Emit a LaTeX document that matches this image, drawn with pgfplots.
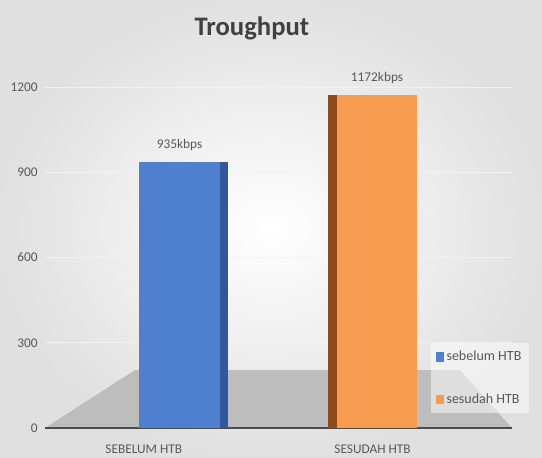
\documentclass[border=0pt]{standalone}
\usepackage{fontspec}
\setmainfont{Carlito}
\usepackage{pgfplots}
\pgfplotsset{compat=1.18}
\definecolor{barblue}{HTML}{4F7FCF}
\definecolor{blueside}{HTML}{34579A}
\definecolor{barorange}{HTML}{F79B50}
\definecolor{orangeside}{HTML}{8E4A1A}
\definecolor{txtgray}{HTML}{595959}
\definecolor{titlegray}{HTML}{404040}
\begin{document}
\begin{tikzpicture}
\useasboundingbox (0,0) rectangle (406.5pt,342.75pt);
\shade[inner color=white, outer color=gray!24] (0,0) rectangle (406.5pt,342.75pt);
\fill[gray!52] (33.75pt,21.75pt) -- (101.25pt,65.25pt) -- (345pt,65.25pt) -- (384pt,21.75pt) -- cycle;
\begin{axis}[
  at={(33.75pt,21.75pt)}, anchor=south west,
  scale only axis, width=350.25pt, height=255.75pt,
  ybar, bar shift=0pt,
  ymin=0, ymax=1200, ytick={0,300,600,900,1200},
  xmin=-0.733, xmax=1.738,
  xtick={-0.21,1}, xticklabels={SEBELUM HTB, SESUDAH HTB},
  axis x line*=bottom, axis y line*=left,
  x axis line style={draw=black!70, line width=2.2pt, -},
  y axis line style={draw=none},
  major tick length=0pt,
  ymajorgrids, grid style={gray!10, line width=0.6pt},
  /pgf/number format/assume math mode=true,
  /pgf/number format/1000 sep={},
  tick label style={font=\fontsize{10}{12}\selectfont, text=txtgray},
  xticklabel style={yshift=-9pt},
  yticklabel style={xshift=-2pt},
  title={Troughput},
  title style={at={(axis description cs:0.443,1.147)}, anchor=center,
    font=\fontsize{20}{24}\selectfont\bfseries, text=titlegray},
  legend style={at={(axis description cs:0.825,0.25)}, anchor=north west,
    draw=none, fill=white, fill opacity=0.5, text opacity=1,
    font=\fontsize{10.5}{12}\selectfont, text=txtgray,
    row sep=19pt, inner sep=4pt},
  legend image code/.code={\fill[#1, fill opacity=1] (0pt,-3.5pt) rectangle (6pt,3.5pt);},
  legend cell align=left,
  nodes near coords={\pgfmathprintnumber{\pgfplotspointmeta}kbps},
  nodes near coords style={font=\fontsize{10}{12}\selectfont, text=txtgray, yshift=5pt},
]
\addplot[fill=barblue, draw=none, bar width=60.75pt, bar shift=-3pt] coordinates {(0,935)};
\addlegendentry{sebelum HTB}
\addplot[fill=barorange, draw=none, bar width=60pt, bar shift=3.4pt] coordinates {(1,1172)};
\addlegendentry{sesudah HTB}
\addplot[fill=blueside, draw=none, bar width=6pt, bar shift=30.4pt, forget plot, nodes near coords={}] coordinates {(0,935)};
\addplot[fill=orangeside, draw=none, bar width=6.75pt, bar shift=-30pt, forget plot, nodes near coords={}] coordinates {(1,1172)};
\end{axis}
\end{tikzpicture}
\end{document}
